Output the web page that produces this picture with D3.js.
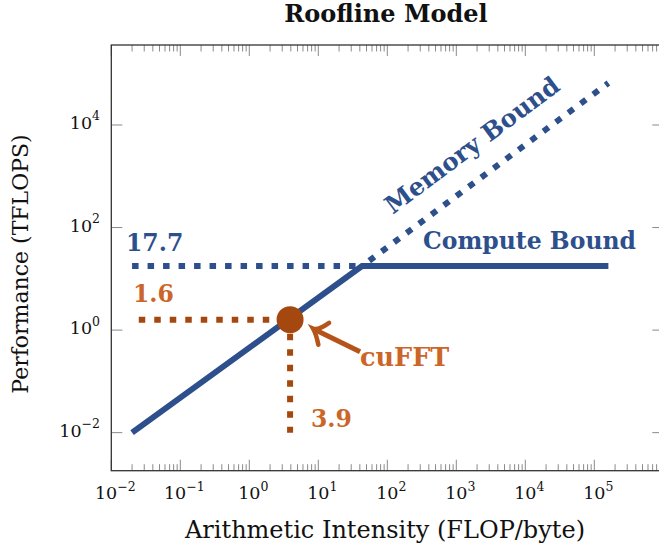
<!DOCTYPE html>
<html><head><meta charset="utf-8">
<script src="https://cdn.jsdelivr.net/npm/d3@7"></script>
<style>body{margin:0;background:#fff}svg{display:block}</style>
</head><body><svg id="c" width="659" height="547"></svg>
<script>
// ---- data ----
const roofX = [0.02, 43, 1.6e5];
const roofY = [0.01, 17.7, 17.7];
const memX = [43, 1.6e5];
const memY = [17.7, 6.59e4];
const peakX = [0.02, 43];
const peakY = [17.7, 17.7];
const cufftX = 3.9, cufftY = 1.6;
const guideX = [0.025, 3.9, 3.9];
const guideY = [1.6, 1.6, 0.01];
const xTickVals = [1e-2, 1e-1, 1, 1e1, 1e2, 1e3, 1e4, 1e5];
const xTickExp = ["−2", "−1", "0", "1", "2", "3", "4", "5"];
const yTickVals = [1e-2, 1, 1e2, 1e4];
const yTickExp = ["−2", "0", "2", "4"];
const peakLabel = "17.7", cufftYLabel = "1.6", cufftXLabel = "3.9";

// ---- layout ----
const L = 111.3, R = 663.3, T = 45, B = 470.7;
const FONT = "'DejaVu Serif', serif";
const BLUE = "#2d4f8c", ORTXT = "#cc6528", ORDK = "#a5480f", ORARR = "#b5541a";

const x = d3.scaleLog().domain([1e-2, 1e6]).range([L, R]);
const y = d3.scaleLog().domain([Math.pow(10, -2.742), Math.pow(10, 5.56)]).range([B, T]);
const svg = d3.select("#c");
svg.append("rect").attr("width", 659).attr("height", 547).attr("fill", "#fff");

// ticks
const minor = [];
for (let d = -2; d < 6; d++) for (let k = 2; k <= 9; k++) minor.push(k * Math.pow(10, d));
const tg = svg.append("g").attr("stroke", "#8a8a8a").attr("stroke-width", 1);
[[B, -1], [T, 1]].forEach(([yy, dir]) => {
  tg.selectAll(null).data(minor).enter().append("line")
    .attr("x1", d => x(d)).attr("x2", d => x(d)).attr("y1", yy).attr("y2", yy + dir * 6.5);
  tg.selectAll(null).data(xTickVals).enter().append("line")
    .attr("x1", d => x(d)).attr("x2", d => x(d)).attr("y1", yy).attr("y2", yy + dir * 11);
});
[[L, 1], [R, -1]].forEach(([xx, dir]) => {
  tg.selectAll(null).data(yTickVals).enter().append("line")
    .attr("y1", d => y(d)).attr("y2", d => y(d)).attr("x1", xx).attr("x2", xx + dir * 11);
});
// frame
svg.append("rect").attr("x", L).attr("y", T).attr("width", R - L).attr("height", B - T)
  .attr("fill", "none").attr("stroke", "#333").attr("stroke-width", 1.3);

// tick labels
function expLabel(sel, base, exp) {
  sel.append("tspan").text(base);
  sel.append("tspan").attr("dy", -8.5).attr("font-size", 12.5).text(exp);
}
xTickVals.forEach((v, i) => {
  const t = svg.append("text").attr("x", x(v) + 4).attr("y", 499).attr("text-anchor", "middle")
    .attr("font-family", FONT).attr("font-size", 17.5).attr("fill", "#111");
  expLabel(t, "10", xTickExp[i]);
});
yTickVals.forEach((v, i) => {
  const t = svg.append("text").attr("x", 100).attr("y", y(v) + 4).attr("text-anchor", "end")
    .attr("font-family", FONT).attr("font-size", 17.5).attr("fill", "#111");
  expLabel(t, "10", yTickExp[i]);
});

// axis labels + title
svg.append("text").attr("x", 385).attr("y", 538).attr("text-anchor", "middle")
  .attr("font-family", FONT).attr("font-size", 24).attr("fill", "#111")
  .text("Arithmetic Intensity (FLOP/byte)");
svg.append("text").attr("transform", "translate(28,264) rotate(-90)").attr("text-anchor", "middle")
  .attr("font-family", FONT).attr("font-size", 22).attr("fill", "#111")
  .text("Performance (TFLOPS)");
svg.append("text").attr("x", 386).attr("y", 22).attr("text-anchor", "middle")
  .attr("font-family", FONT).attr("font-weight", "bold").attr("font-size", 24).attr("fill", "#111")
  .text("Roofline Model");

const line = d3.line().x(d => x(d[0])).y(d => y(d[1]));

// guides
svg.append("path").datum(d3.zip(peakX, peakY)).attr("d", line).attr("fill", "none")
  .attr("stroke", BLUE).attr("stroke-width", 6).attr("stroke-dasharray", "6.5,9");
svg.append("path").datum(d3.zip(memX, memY)).attr("d", line).attr("fill", "none")
  .attr("stroke", BLUE).attr("stroke-width", 6).attr("stroke-dasharray", "6.5,9")
  .attr("stroke-dashoffset", -9);
svg.append("path").datum(d3.zip(guideX.slice(0, 2), guideY.slice(0, 2))).attr("d", line).attr("fill", "none")
  .attr("stroke", ORDK).attr("stroke-width", 6).attr("stroke-dasharray", "6.5,9");
svg.append("path").datum(d3.zip(guideX.slice(1), guideY.slice(1))).attr("d", line).attr("fill", "none")
  .attr("stroke", ORDK).attr("stroke-width", 6).attr("stroke-dasharray", "6.5,9")
  .attr("stroke-dashoffset", -14);

// roofline
svg.append("path").datum(d3.zip(roofX, roofY)).attr("d", line).attr("fill", "none")
  .attr("stroke", BLUE).attr("stroke-width", 6).attr("stroke-linejoin", "miter");

// cuFFT point
const px = x(cufftX), py = y(cufftY);
svg.append("circle").attr("cx", px).attr("cy", py).attr("r", 13.5).attr("fill", ORDK);

// arrow
const tip = [px + 23, py + 9], tail = [px + 70, py + 32];
const ang = Math.atan2(tail[1] - tip[1], tail[0] - tip[0]);
const bl = 17, ba = 0.8;
const b1 = [tip[0] + bl * Math.cos(ang + ba), tip[1] + bl * Math.sin(ang + ba)];
const b2 = [tip[0] + bl * Math.cos(ang - ba), tip[1] + bl * Math.sin(ang - ba)];
svg.append("line").attr("x1", tail[0]).attr("y1", tail[1]).attr("x2", tip[0] + 2).attr("y2", tip[1] + 1)
  .attr("stroke", ORARR).attr("stroke-width", 5);
svg.append("path")
  .attr("d", `M${b1[0]},${b1[1]} Q${tip[0] + 3},${tip[1] + 5} ${tip[0]},${tip[1]} Q${tip[0] + 5},${tip[1] + 2} ${b2[0]},${b2[1]}`)
  .attr("fill", "none").attr("stroke", ORARR).attr("stroke-width", 4.5).attr("stroke-linecap", "round");

// annotations
function ann(txt, xx, yy, col, anchor, fs) {
  return svg.append("text").attr("x", xx).attr("y", yy).attr("text-anchor", anchor || "start")
    .attr("font-family", FONT).attr("font-weight", "bold").attr("font-size", fs || 23.5).attr("fill", col).text(txt);
}
ann(peakLabel, 126, 251, BLUE);
ann(cufftYLabel, 133, 302, ORTXT);
ann(cufftXLabel, 311, 427, ORTXT);
ann("cuFFT", 360, 366, ORTXT, "start", 25.5);
ann("Compute Bound", 636, 249, BLUE, "end");
const angDeg = Math.atan2(y(memY[0]) - y(memY[1]), x(memX[1]) - x(memX[0])) * 180 / Math.PI;
svg.append("text").attr("transform", `translate(472,145) rotate(${-angDeg})`).attr("text-anchor", "middle")
  .attr("dy", "0.35em").attr("font-family", FONT).attr("font-weight", "bold").attr("font-size", 24.5)
  .attr("fill", BLUE).text("Memory Bound");
</script></body></html>
